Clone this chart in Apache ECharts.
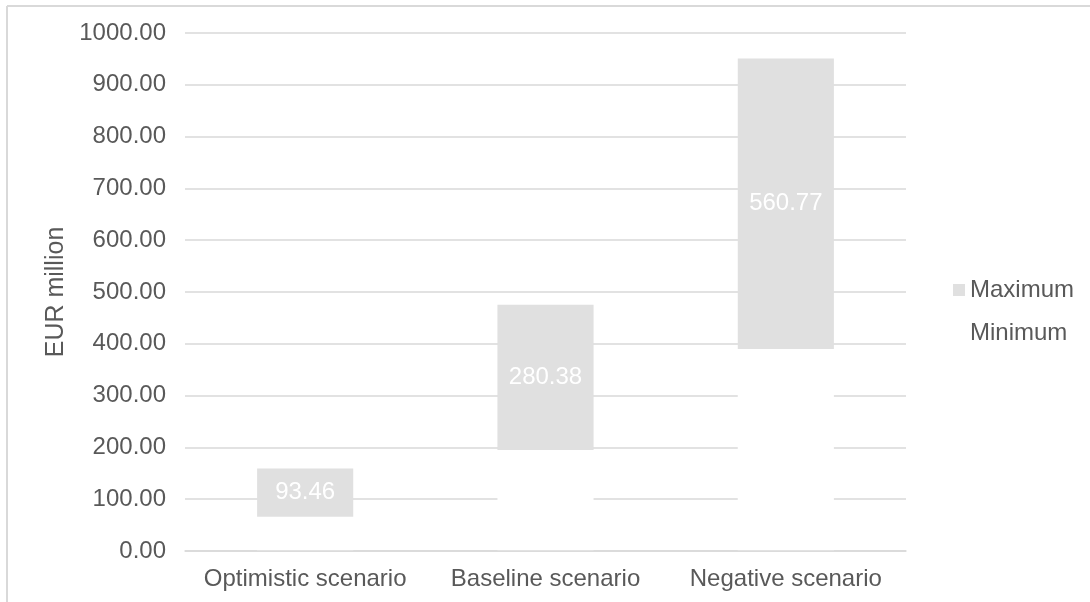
<!DOCTYPE html>
<html>
<head>
<meta charset="utf-8">
<script src="https://cdn.jsdelivr.net/npm/echarts@6/dist/echarts.min.js"></script>
<style>
  html, body { margin: 0; padding: 0; background: #ffffff; }
  #chart { width: 1090px; height: 602px; }
</style>
</head>
<body>
<div id="chart"></div>
<script>
// Scenario ranges in EUR million: the invisible "Minimum" bar lifts each
// "Maximum" bar, whose height is the range between the two bounds.
const categories = ['Optimistic scenario', 'Baseline scenario', 'Negative scenario'];
const minimumValues = [66.0, 195.0, 390.0];
const rangeValues = [93.46, 280.38, 560.77];
const yTicks = { min: 0, max: 1000, interval: 100 };

const textColor = '#595959';
const lineColor = '#d9d9d9';
const barColor = '#e0e0e0';
const fontFamily = '"Liberation Sans", Arial, sans-serif';
const fontSize = 24;

const chart = echarts.init(document.getElementById('chart'), null, { renderer: 'canvas' });

chart.setOption({
  backgroundColor: '#ffffff',
  animation: false,
  textStyle: { fontFamily: fontFamily },
  grid: { left: 185, right: 184, top: 33, bottom: 51, containLabel: false },
  legend: {
    orient: 'vertical',
    left: 948,
    top: 273,
    itemWidth: 12,
    itemHeight: 12,
    itemGap: 19,
    icon: 'rect',
    selectedMode: false,
    textStyle: { color: textColor, fontSize: fontSize, fontFamily: fontFamily },
    data: ['Maximum', 'Minimum']
  },
  xAxis: {
    type: 'category',
    data: categories,
    z: 5,
    axisTick: { show: false },
    axisLine: { show: true, lineStyle: { color: lineColor, width: 1.5 } },
    axisLabel: { color: textColor, fontSize: fontSize, margin: 16, interval: 0, fontFamily: fontFamily }
  },
  yAxis: {
    type: 'value',
    min: yTicks.min,
    max: yTicks.max,
    interval: yTicks.interval,
    name: 'EUR million',
    nameLocation: 'middle',
    nameGap: 116,
    nameRotate: 90,
    nameTextStyle: { color: textColor, fontSize: 25, fontFamily: fontFamily },
    axisLine: { show: false },
    axisTick: { show: false },
    splitLine: { lineStyle: { color: lineColor, width: 1.5 } },
    axisLabel: {
      color: textColor,
      fontSize: fontSize,
      margin: 19,
      fontFamily: fontFamily,
      formatter: v => v.toFixed(2)
    }
  },
  series: [
    {
      name: 'Minimum',
      type: 'bar',
      stack: 'range',
      barWidth: '40%',
      data: minimumValues,
      itemStyle: { color: '#ffffff' },
      emphasis: { disabled: true }
    },
    {
      name: 'Maximum',
      type: 'bar',
      stack: 'range',
      barWidth: '40%',
      data: rangeValues,
      itemStyle: { color: barColor },
      emphasis: { disabled: true },
      label: {
        show: true,
        position: 'inside',
        color: '#ffffff',
        fontSize: fontSize,
        fontFamily: fontFamily,
        formatter: p => p.value.toFixed(2)
      }
    }
  ],
  graphic: [
    {
      type: 'line',
      shape: { x1: 7, y1: 6, x2: 1090, y2: 6 },
      style: { stroke: lineColor, lineWidth: 2 },
      silent: true
    },
    {
      type: 'line',
      shape: { x1: 7, y1: 6, x2: 7, y2: 602 },
      style: { stroke: lineColor, lineWidth: 2 },
      silent: true
    }
  ]
});
</script>
</body>
</html>
